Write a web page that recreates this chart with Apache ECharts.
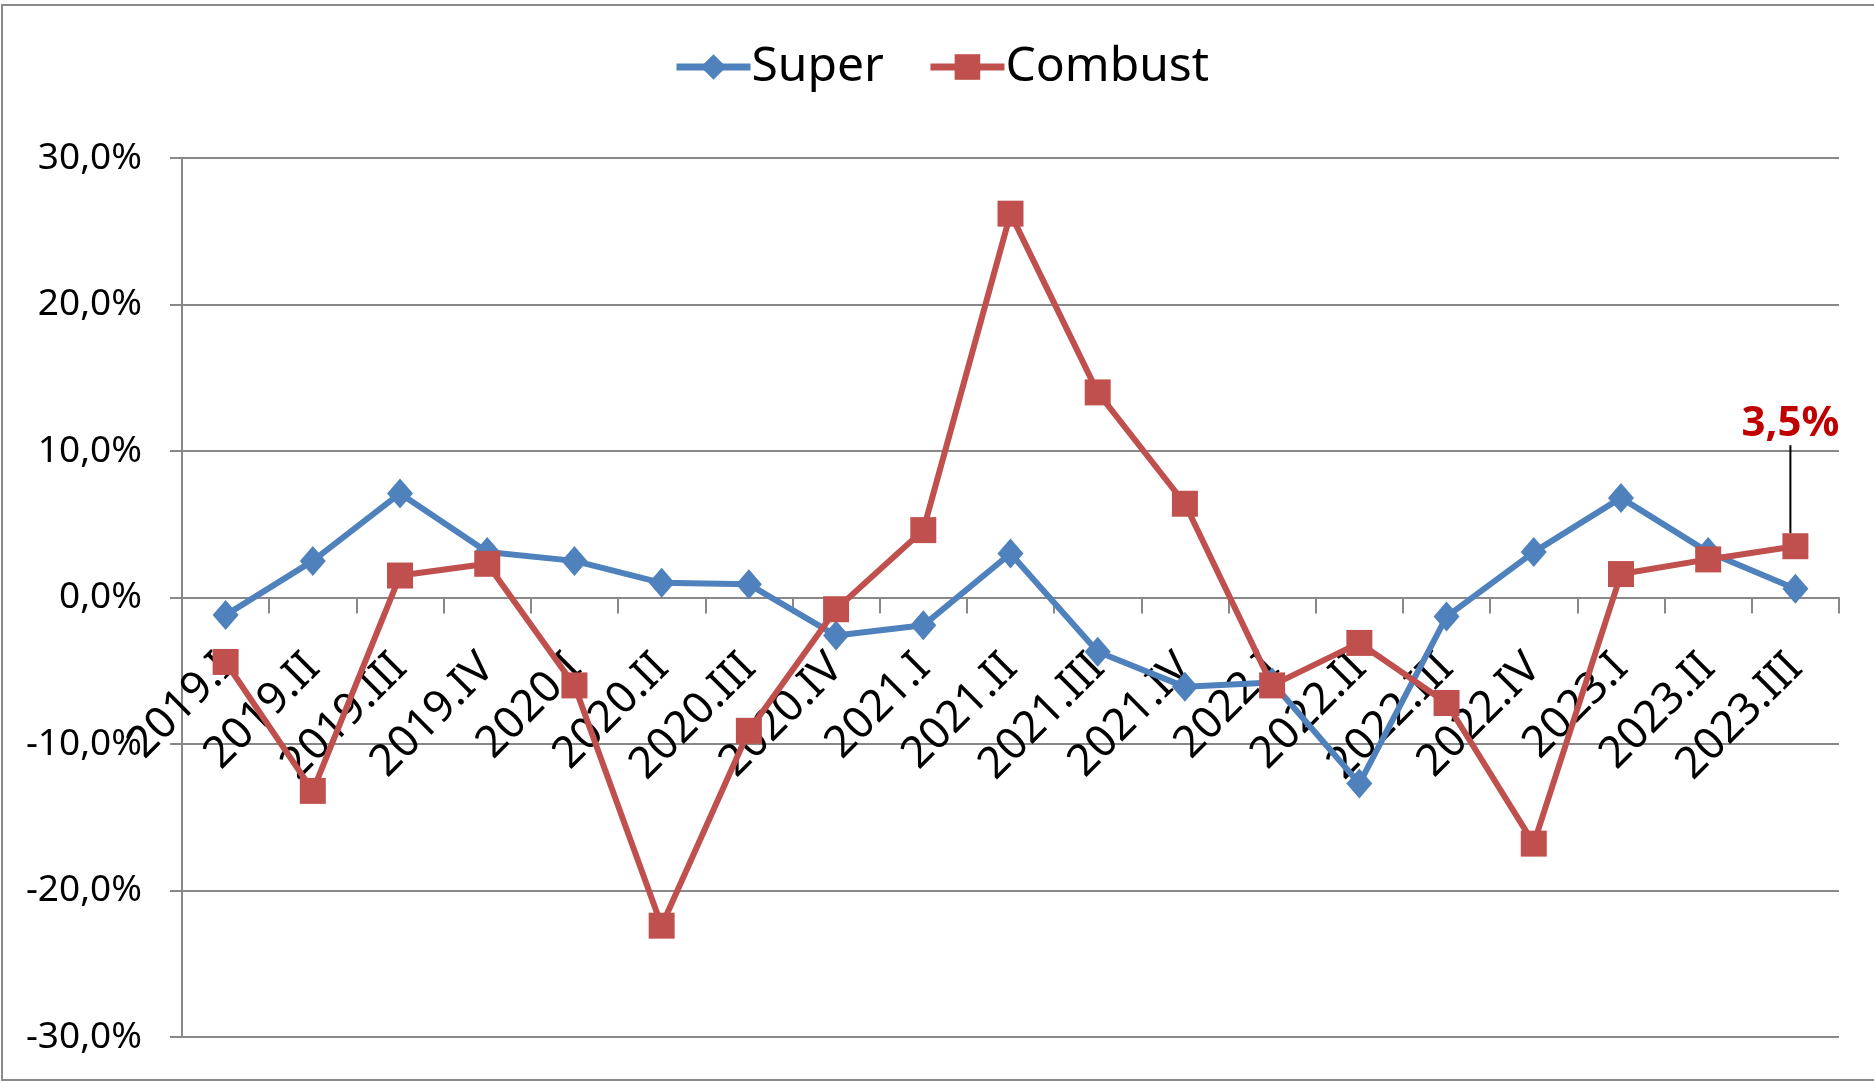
<!DOCTYPE html>
<html>
<head>
<meta charset="utf-8">
<title>Super / Combust</title>
<script src="https://cdn.jsdelivr.net/npm/echarts@6/dist/echarts.min.js"></script>
<style>
  html, body { margin: 0; padding: 0; background: #fff; }
  #main { width: 1874px; height: 1081px; }
</style>
</head>
<body>
<div id="main"></div>
<script>
// trimestre
var categories = ['2019.I', '2019.II', '2019.III', '2019.IV', '2020.I', '2020.II', '2020.III', '2020.IV',
    '2021.I', '2021.II', '2021.III', '2021.IV', '2022.I', '2022.II', '2022.III', '2022.IV',
    '2023.I', '2023.II', '2023.III'];
// variatie %
var superValues = [-1.2, 2.5, 7.1, 3.1, 2.5, 1.0, 0.9, -2.6, -1.9, 3.0, -3.7, -6.1, -5.8, -12.7, -1.3, 3.1, 6.8, 3.1, 0.6];
var combustValues = [-4.4, -13.2, 1.5, 2.3, -6.0, -22.4, -9.1, -0.8, 4.6, 26.2, 14.0, 6.4, -6.0, -3.1, -7.2, -16.8, 1.6, 2.6, 3.5];
var yTicks = [-30, -20, -10, 0, 10, 20, 30];

var fmt = function(v) {
    return v.toFixed(1).replace('.', ',') + '%';
};

var chart = echarts.init(document.getElementById('main'));

// doar ultimul punct are eticheta
var combustData = combustValues.map(function(v, i) {
    if (i === combustValues.length - 1) {
        return {
            value: v,
            label: {
                show: true,
                position: 'top',
                formatter: function(p) { return fmt(p.value); },
                color: '#C00000',
                fontWeight: 'bold',
                fontSize: 42,
                fontFamily: 'Noto Sans'
            }
        };
    }
    return v;
});

var option = {
    animation: false,
    backgroundColor: '#fff',
    textStyle: { fontFamily: 'Noto Sans', color: '#000' },
    graphic: [{
        type: 'rect',
        shape: { x: 2, y: 5, width: 1890, height: 1075 },
        style: { fill: 'none', stroke: '#898989', lineWidth: 2 },
        silent: true,
        z: -1
    }],
    legend: {
        top: 38,
        left: 668,
        itemWidth: 74,
        itemHeight: 32,
        itemGap: 43,
        lineStyle: { width: 7 },
        textStyle: { fontSize: 48, color: '#000', fontFamily: 'Noto Sans', padding: [0, 0, 0, -4] },
        data: ['Super', 'Combust']
    },
    grid: { left: 182, right: 35, top: 158, bottom: 44, containLabel: false, outerBoundsMode: 'none' },
    xAxis: [{
        type: 'category',
        data: categories,
        boundaryGap: true,
        axisLine: { onZero: true, lineStyle: { color: '#888', width: 2 } },
        axisTick: { show: true, length: 16, interval: 0, lineStyle: { color: '#888', width: 2 } },
        axisLabel: { show: false },
        splitLine: { show: false }
    }, {
        // etichetele stau pe linia de zero
        type: 'category',
        data: categories,
        boundaryGap: true,
        position: 'bottom',
        offset: -440,
        axisLine: { show: false },
        axisTick: { show: false },
        axisLabel: { rotate: 45, interval: 0, margin: 64, fontSize: 44, color: '#000' },
        splitLine: { show: false }
    }],
    yAxis: {
        type: 'value',
        min: yTicks[0],
        max: yTicks[yTicks.length - 1],
        interval: 10,
        axisLine: { show: true, lineStyle: { color: '#888', width: 2 } },
        axisTick: { show: true, length: 12, lineStyle: { color: '#888', width: 2 } },
        axisLabel: { margin: 40, fontSize: 37, color: '#000', formatter: fmt },
        splitLine: { show: true, lineStyle: { color: '#888', width: 2 } }
    },
    series: [{
        name: 'Super',
        type: 'line',
        data: superValues,
        symbol: 'diamond',
        symbolSize: [26, 30],
        itemStyle: { color: '#4F81BD' },
        lineStyle: { color: '#4F81BD', width: 6 },
        label: { show: false }
    }, {
        name: 'Combust',
        type: 'line',
        data: combustData,
        symbol: 'rect',
        symbolSize: 26,
        itemStyle: { color: '#C0504D' },
        lineStyle: { color: '#C0504D', width: 6 },
        labelLayout: { dx: -5, dy: -83 },
        labelLine: { show: true, lineStyle: { color: '#000', width: 2 } }
    }]
};

chart.setOption(option);
</script>
</body>
</html>
